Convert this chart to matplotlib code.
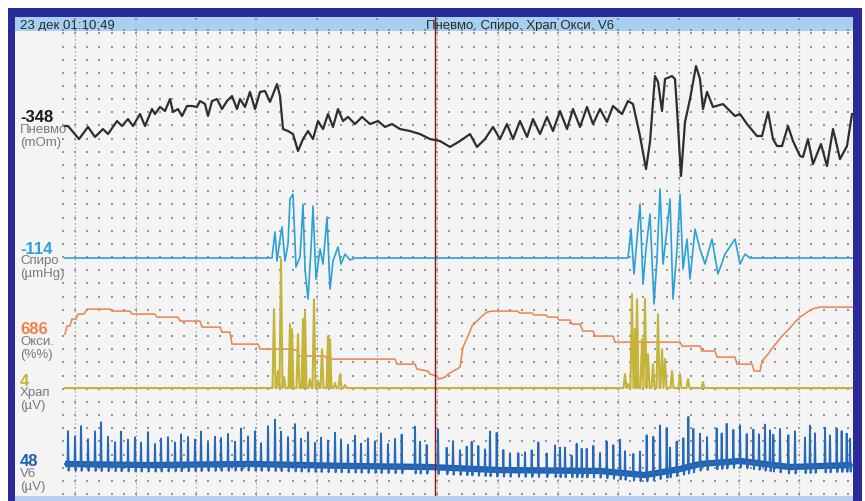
import numpy as np
import matplotlib.pyplot as plt
from matplotlib.patches import Rectangle

plt.rcParams['font.family'] = ['Liberation Sans', 'DejaVu Sans']

W, H = 865, 502

# screen: time in seconds (grid step 2 s), vertical unit = one grid row
header_left = '23 дек 01:10:49'
header_mid = 'Пневмо. Спиро. Храп Окси. V6'
cursor_t = 13.92

chan_names = ['Пневмо', 'Спиро', 'Окси.', 'Храп', 'V6']
chan_units = ['(mOm)', '(µmHg)', '(%%)', '(µV)', '(µV)']
chan_values = ['-348', '-114', '686', '4', '48']
chan_rows = [28.0, 17.93, 12.0, 8.05, 2.28]
chan_colors = ['#2e2e2e', '#2aa2d8', '#f0804a', '#c4b43a', '#1f5fb0']
label_rows = [28.65, 18.69, 12.54, 8.66, 2.51]

# Пневмо
pnevmo_t = [1.657, 1.757, 2.121, 2.42, 2.652, 2.917, 3.083, 3.381, 3.547, 3.745, 3.911, 4.143,
            4.309, 4.541, 4.64, 4.806, 4.972, 5.138, 5.237, 5.403, 5.535, 5.701, 5.867, 6.033,
            6.132, 6.298, 6.397, 6.53, 6.695, 6.861, 7.027, 7.193, 7.358, 7.458, 7.624, 7.789,
            7.955, 8.121, 8.287, 8.452, 8.684, 8.784, 8.883, 9.049, 9.215, 9.38, 9.546, 9.712,
            9.877, 10.043, 10.209, 10.375, 10.54, 10.706, 10.872, 11.038, 11.27, 11.502, 11.767,
            12.032, 12.264, 12.496, 12.761, 13.092, 13.424, 13.755, 14.087, 14.418, 14.75, 15.081,
            15.313, 15.578, 15.844, 16.075, 16.307, 16.506, 16.738, 16.971, 17.17, 17.401, 17.633,
            17.832, 18.064, 18.296, 18.495, 18.727, 18.959, 19.158, 19.39, 19.622, 19.821, 20.119,
            20.318, 20.484, 20.716, 20.915, 21.048, 21.213, 21.313, 21.445, 21.545, 21.777, 21.876,
            21.943, 22.075, 22.208, 22.373, 22.572, 22.705, 22.804, 22.937, 23.136, 23.467, 23.633,
            23.865, 24.031, 24.263, 24.594, 24.76, 24.959, 25.124, 25.257, 25.423, 25.621, 25.787,
            26.019, 26.118, 26.284, 26.45, 26.715, 26.914, 27.113, 27.345, 27.577, 27.743]
pnevmo_v = [-0.04, -0.04, -1.03, -0.11, -0.87, -0.27, -0.65, 0.34, -0.04, 0.49, -0.04, 0.87,
            -0.04, 1.25, 0.87, 1.41, 1.10, 2.01, 1.03, 1.25, 0.72, 1.48, 1.48, 1.41,
            1.86, 1.63, 0.72, 1.86, 2.01, 1.25, 1.86, 2.24, 1.25, 2.01, 1.41, 2.55,
            1.25, 2.55, 2.62, 1.79, 3.15, 2.24, -0.27, -0.42, -0.65, -1.94, -1.03, -0.42,
            -1.03, 0.34, -0.27, 0.87, -0.11, 1.25, 0.34, 0.65, 0.11, 0.65, 0.11,
            0.34, -0.11, 0.11, -0.27, -0.42, -0.65, -1.03, -1.18, -1.63, -1.18, -0.65,
            -1.63, -1.03, -0.11, -1.03, 0.11, -1.03, 0.34, -0.87, 0.49, -0.65, 0.65,
            -0.42, 1.10, -0.27, 1.25, -0.11, 1.41, 0.11, 1.25, 0.27, 1.48, 0.87,
            1.86, 1.63, -0.80, -3.31, -1.25, 3.76, 3.31, 1.10, 3.53, 3.76, 3.53,
            1.25, -3.84, 0.27, 2.01, 4.52, 3.53, 1.25, 2.55, 1.41, 1.63, 1.25,
            0.72, 0.87, 0.11, -0.80, -0.80, 1.03, -1.03, -1.56, -1.56, -0.04, -1.18,
            -2.32, -2.39, -1.03, -2.93, -1.41, -3.08, -0.27, -2.55, -1.56, 0.87]

# Спиро
spiro_t = [1.657, 8.518, 8.618, 8.684, 8.784, 8.85, 8.949, 9.049, 9.115, 9.215, 9.314, 9.447,
           9.546, 9.612, 9.712, 9.811, 9.877, 9.977, 10.11, 10.209, 10.342, 10.441, 10.54,
           10.706, 10.806, 10.938, 11.104, 11.27,
           20.318, 20.418, 20.517, 20.617, 20.716, 20.816, 20.915, 21.048, 21.181, 21.279,
           21.379, 21.479, 21.611, 21.711, 21.81, 21.943, 22.042, 22.142, 22.274, 22.373,
           22.539, 22.705, 22.87, 23.102, 23.301, 23.533, 23.865, 24.031, 24.197, 24.36, 27.743]
spiro_v = [0, 0, 1.98, -0.23, 1.44, 2.36, -0.23, 1.06, 4.48, 4.86, -0.68, 0.08,
           4.10, -0.84, -3.12, 0.68, 3.95, -1.60, 0.68, -0.46, 3.12, -2.36, -0.23,
           0.84, -0.46, 0.30, -0.15, 0,
           0, 2.20, -1.22, 1.44, 4.10, -1.98, 0.68, 3.34, -3.50, -0.08,
           5.24, -0.46, 2.20, 4.48, -3.12, 0.68, 4.86, -0.84, 1.44, -1.60,
           2.20, 0.68, -0.46, 1.44, -1.22, 0.30, 1.44, -0.46, 0.30, 0, 0]

# Окси
oxy_t = [1.657, 1.724, 1.823, 1.889, 2.022, 2.088, 2.287, 2.386, 3.149, 3.215, 3.812, 3.878,
         4.64, 4.707, 5.403, 5.469, 6.132, 6.198, 6.795, 6.861, 7.126, 7.193, 8.054, 8.121,
         9.115, 9.181, 9.347, 9.413, 10.275, 10.342, 12.595, 12.661, 13.258, 13.325, 13.689,
         13.755, 13.987, 14.054, 14.253, 14.352, 14.65, 14.75, 14.849, 15.015, 15.148, 15.313,
         15.479, 15.645, 15.81, 16.639, 16.738, 17.136, 17.203, 17.6, 17.666, 17.965, 18.031,
         18.396, 18.462, 18.727, 18.827, 19.158, 19.224, 19.821, 19.887, 22.042, 22.108,
         22.705, 22.771, 23.202, 23.268, 23.865, 23.931, 24.429, 24.495, 24.694, 24.76,
         24.959, 25.124, 25.29, 25.456, 25.655, 25.853, 26.019, 26.218, 26.417, 26.682, 27.743]
oxy_v = [0.15, 0.76, 0.76, 1.29, 1.29, 1.67, 1.67, 2.05, 2.05, 1.90, 1.90, 1.67,
         1.67, 1.44, 1.44, 1.14, 1.14, 0.68, 0.68, 0.30, 0.30, -0.61, -0.61, -0.99,
         -0.99, -1.06, -1.06, -1.52, -1.52, -1.75, -1.75, -2.13, -2.13, -2.51, -2.66,
         -2.89, -3.04, -3.27, -3.12, -2.89, -2.51, -2.36, -0.84, 0, 0.76, 1.14,
         1.52, 1.82, 1.90, 1.90, 1.75, 1.75, 1.60, 1.60, 1.44, 1.44, 1.22,
         1.22, 0.91, 0.91, 0.38, 0.38, 0, 0, -0.46, -0.46, -0.76,
         -0.76, -1.14, -1.14, -1.60, -1.60, -2.13, -2.13, -2.66, -2.66, -1.90,
         -1.37, -0.84, -0.38, 0.08, 0.53, 1.06, 1.44, 1.75, 2.05, 2.20, 2.20]

# Храп: spike times and heights
snore_t = [8.585, 8.717, 8.817, 8.916, 9.115, 9.181, 9.38, 9.546, 9.612, 9.778, 9.911, 10.043,
           10.176, 10.375, 10.441, 10.607, 10.773, 10.938,
           20.219, 20.318, 20.45, 20.55, 20.617, 20.782, 20.882, 20.981, 21.147, 21.313, 21.445,
           21.545, 21.777, 22.042, 22.307, 22.804]
snore_h = [6.0, 1.29, 9.8, 0.84, 4.86, 4.48, 4.10, 5.24, 5.78, 0.68, 6.76, 0.53,
           2.96, 3.95, 3.72, 0.38, 1.06, 0.23,
           1.06, 0.30, 7.14, 4.48, 6.76, 3.72, 6.76, 2.58, 1.82, 5.62, 2.96,
           2.20, 1.29, 1.06, 0.68, 0.46]

# V6: baseline drift and R waves
ecg_base_t = [1.657, 4.475, 7.789, 11.104, 13.755, 16.075, 19.39, 20.882, 22.042, 22.705,
              24.031, 25.688, 27.743]
ecg_base_v = [0, -0.08, 0, -0.15, -0.23, -0.46, -0.53, -0.84, -0.38, 0, 0.23, -0.23, -0.08]
ecg_beat_t = [1.757, 1.989, 2.188, 2.42, 2.652, 2.851, 3.083, 3.315, 3.513, 3.745, 3.977, 4.176,
              4.408, 4.64, 4.839, 5.071, 5.303, 5.502, 5.734, 5.966, 6.165, 6.397, 6.629, 6.828,
              7.06, 7.292, 7.491, 7.723, 7.955, 8.154, 8.386, 8.618, 8.817, 9.049, 9.281, 9.48,
              9.712, 9.944, 10.143, 10.375, 10.607, 10.806, 11.038, 11.27, 11.468, 11.70, 11.932,
              12.131, 12.363, 12.595,
              12.817, 13.258, 13.424, 13.646, 14.02, 14.309, 14.518, 14.75, 14.972, 15.138, 15.356,
              15.578, 15.744, 15.966, 16.185, 16.407, 16.682, 16.904, 17.126, 17.345, 17.623,
              17.899, 18.064, 18.23, 18.452, 18.618, 18.784, 18.95, 19.168, 19.39, 19.612, 19.831,
              20.053, 20.219, 20.494, 20.716, 20.938, 21.157, 21.379, 21.601, 21.71, 21.932,
              22.151, 22.317, 22.483,
              22.705, 22.937, 23.258, 23.424, 23.59, 23.809, 24.031, 24.253, 24.472, 24.66, 24.859,
              25.025, 25.134, 25.356, 25.631, 25.853, 26.185, 26.35, 26.516, 26.848, 27.013,
              27.235, 27.401, 27.567, 27.677]
ecg_beat_h = [2.5, 2.1, 2.9, 1.9, 2.5, 3.2, 2.1, 1.7, 2.5, 1.9, 2.1, 1.7,
              2.5, 1.6, 2.0, 2.1, 1.7, 2.3, 2.1, 1.9, 2.5, 1.7, 2.1, 2.0,
              2.3, 1.7, 2.7, 2.1, 2.5, 1.6, 2.9, 3.4, 2.5, 2.1, 3.1, 2.0,
              2.5, 1.7, 2.1, 1.9, 2.5, 2.0, 1.6, 2.3, 1.7, 2.1, 1.9,
              2.5, 1.7, 2.1,
              2.43, 3.04, 1.90, 1.67, 2.89, 1.52, 2.05, 1.37, 1.67, 2.05, 1.75,
              1.52, 2.89, 2.81, 1.52, 1.29, 1.29, 1.37, 1.52, 2.13, 1.29,
              1.90, 1.75, 1.75, 1.14, 2.05, 1.67, 1.67, 1.90, 1.37, 2.28, 2.05,
              2.51, 1.67, 1.52, 1.75, 3.0, 2.8, 3.57, 3.27, 1.75, 2.13,
              2.28, 3.8, 2.8,
              2.3, 2.0, 2.6, 2.2, 2.9, 2.4, 2.7, 2.1, 2.5, 2.2, 3.0,
              2.6, 2.3, 2.8, 2.4, 2.7, 2.2, 3.1, 2.5, 2.9, 2.3,
              2.8, 2.6, 2.4, 2.0]

fig = plt.figure(figsize=(W / 100, H / 100), dpi=100)
fig.patch.set_facecolor('white')

def fr(x0, y0, x1, y1):
    return [x0 / W, 1 - y1 / H, (x1 - x0) / W, (y1 - y0) / H]

# window frame (background axes in pixel units)
bg = fig.add_axes([0, 0, 1, 1], zorder=-10)
bg.set_xlim(0, W)
bg.set_ylim(H, 0)
bg.axis('off')
bg.add_patch(Rectangle((8, 9), 854, 500, facecolor='#2a2a98', edgecolor='none'))
bg.add_patch(Rectangle((15, 18), 838, 490, facecolor='#b9cdee', edgecolor='none'))

t_left, t_right = 0.0, 27.776
minor = np.arange(1.6, 27.7, 0.4)
major = np.arange(2, 27, 2)
rows = np.arange(0, 36)

# header bar
hx = fig.add_axes(fr(15, 18, 853, 32))
hx.set_facecolor('#a6cff0')
hx.set_xlim(t_left, t_right)
hx.set_ylim(0, 1)
hx.set_xticks([])
hx.set_yticks([])
for s in hx.spines.values():
    s.set_visible(False)
hx.scatter(minor, np.full(len(minor), 0.1), s=1.5, marker='s', color='#7d8fa0', lw=0)
hx.scatter(major, np.full(len(major), 0.85), s=1.5, marker='s', color='#7d8fa0', lw=0)
hx.text(0.15, 0.45, header_left, fontsize=9.5, color='#2a2a2a', va='center', ha='left')
hx.text(16.74, 0.45, header_mid, fontsize=9.5, color='#2a2a2a', va='center', ha='center')
hx.axvline(cursor_t, color='#8a1616', lw=1)

# main panel
ax = fig.add_axes(fr(15, 32, 853, 497))
ax.set_facecolor('#f4f4f4')
ax.set_xlim(t_left, t_right)
ax.set_ylim(-0.152, 35.18)
ax.set_xticks([])
ax.set_yticks([])
for s in ax.spines.values():
    s.set_visible(False)

gx, gy = np.meshgrid(minor, rows)
ax.scatter(gx.ravel(), gy.ravel(), s=1.5, marker='s', color='#959595', lw=0, zorder=1)
ax.vlines(major, -0.15, 35.2, colors='#9a9a9a', lw=0.8, linestyles=(0, (1.2, 2.4)), zorder=1)

# Пневмо
ax.plot(pnevmo_t, np.array(pnevmo_v) + chan_rows[0], color=chan_colors[0], lw=1.6, zorder=3,
        solid_joinstyle='round')

# Спиро
ax.plot(spiro_t, np.array(spiro_v) + chan_rows[1], color=chan_colors[1], lw=1.2, zorder=3)

# Окси
ax.plot(oxy_t, np.array(oxy_v) + chan_rows[2], color=chan_colors[2], lw=1.1, zorder=3)

# Храп
sx, sy = [1.657], [0.0]
for t, h in zip(snore_t, snore_h):
    sx += [t - 0.05, t, t + 0.05]
    sy += [0.0, h, 0.0]
sx.append(27.743)
sy.append(0.0)
ax.plot(sx, np.array(sy) + chan_rows[3], color=chan_colors[3], lw=1.5, zorder=3)

# V6
ax.plot(ecg_base_t, np.array(ecg_base_v) + chan_rows[4], color=chan_colors[4], lw=4.5,
        zorder=3, solid_capstyle='butt')
ex, ey = [ecg_base_t[0]], [ecg_base_v[0]]
for t, h in zip(ecg_beat_t, ecg_beat_h):
    b = np.interp(t, ecg_base_t, ecg_base_v)
    ex += [t - 0.05, t - 0.015, t, t + 0.02, t + 0.05]
    ey += [b, b - 0.15, b + h, b - 0.5, b]
ex.append(ecg_base_t[-1])
ey.append(ecg_base_v[-1])
ax.plot(ex, np.array(ey) + chan_rows[4], color='#2868b8', lw=1.4, zorder=3)

# cursor
ax.axvline(cursor_t, color='#8a1616', lw=1, zorder=4)

# channel labels
for name, unit, val, col, lr in zip(chan_names, chan_units, chan_values, chan_colors, label_rows):
    vc = '#1a1a1a' if col == '#2e2e2e' else col
    ax.text(0.17, lr, val, fontsize=12, fontweight='bold', color=vc, va='center', ha='left', zorder=5)
    ax.text(0.17, lr - 0.92, name, fontsize=9.5, color='#7a7a7a', va='center', ha='left', zorder=5)
    ax.text(0.17, lr - 1.9, unit, fontsize=9.5, color='#7a7a7a', va='center', ha='left', zorder=5)

fig.savefig('out.png', dpi=100, facecolor=fig.get_facecolor())
